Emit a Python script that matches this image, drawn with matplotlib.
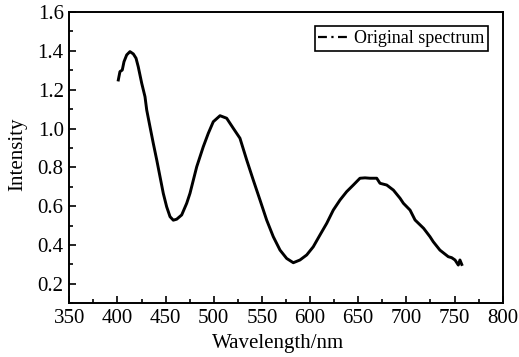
import matplotlib
matplotlib.use("Agg")
import matplotlib.pyplot as plt
from matplotlib.lines import Line2D
from matplotlib.ticker import MultipleLocator

plt.rcParams['font.family'] = ['Liberation Serif', 'DejaVu Serif']

# spectrum samples (nm, intensity)
wavelength = [400.9, 402.6, 405.0, 406.8, 409.6, 413.0, 416.5, 419.3, 421.6, 425.2,
              428.6, 430.4, 433.8, 437.2, 440.8, 444.2, 447.6, 451.1, 454.6, 458.0,
              461.5, 466.7, 471.9, 475.3, 482.3, 489.1, 494.3, 499.5, 506.5, 513.4,
              520.3, 527.2, 534.2, 541.0, 548.0, 554.9, 561.8, 568.8, 575.7, 582.6,
              589.5, 596.5, 603.3, 610.3, 617.3, 624.1, 631.1, 638.0, 644.9, 651.8,
              657.0, 662.2, 669.2, 672.6, 679.6, 686.5, 693.4, 696.9, 703.8, 709.0,
              717.9, 724.5, 727.9, 734.8, 743.5, 747.0, 750.5, 753.9, 755.6, 757.5]
intensity = [1.250, 1.293, 1.301, 1.344, 1.379, 1.396, 1.384, 1.362, 1.318, 1.233,
             1.164, 1.095, 1.009, 0.924, 0.838, 0.752, 0.666, 0.597, 0.546, 0.528,
             0.533, 0.555, 0.615, 0.666, 0.803, 0.906, 0.975, 1.035, 1.066, 1.053,
             1.001, 0.950, 0.838, 0.735, 0.632, 0.529, 0.443, 0.374, 0.331, 0.309,
             0.323, 0.349, 0.391, 0.452, 0.512, 0.580, 0.632, 0.675, 0.709, 0.744,
             0.746, 0.744, 0.744, 0.718, 0.709, 0.683, 0.641, 0.615, 0.580, 0.529,
             0.486, 0.443, 0.417, 0.374, 0.340, 0.335, 0.323, 0.297, 0.323, 0.300]

fig = plt.figure(figsize=(5.19, 3.57), dpi=100)
ax = fig.add_axes([0.1335, 0.1504, 0.8351, 0.8160])

ax.plot(wavelength, intensity, color='black', lw=2.1, solid_joinstyle='round')

ax.set_xlim(350, 800)
ax.set_ylim(0.1, 1.6)
ax.xaxis.set_major_locator(MultipleLocator(50))
ax.xaxis.set_minor_locator(MultipleLocator(25))
ax.yaxis.set_major_locator(MultipleLocator(0.2))
ax.yaxis.set_minor_locator(MultipleLocator(0.1))
ax.tick_params(which='both', direction='in', top=False, right=False,
               labelsize=15, width=1.2)
ax.tick_params(which='major', length=5, pad=4)
ax.tick_params(which='minor', length=3)
for s in ax.spines.values():
    s.set_linewidth(1.4)

ax.set_xlabel('Wavelength/nm', fontsize=15)
ax.xaxis.set_label_coords(0.482, -0.105)
ax.set_ylabel('Intensity', fontsize=15)
ax.yaxis.set_label_coords(-0.097, 0.51)

handle = Line2D([], [], color='black', lw=1.6, linestyle=(0, (4, 2, 1, 2)))
leg = ax.legend([handle], ['Original spectrum'], loc='upper right',
                fontsize=13, fancybox=False, edgecolor='black',
                framealpha=1, handlelength=1.6, handletextpad=0.4,
                borderpad=0.2, borderaxespad=0.8)
leg.get_frame().set_linewidth(1.2)

fig.savefig('out.png', dpi=100)
